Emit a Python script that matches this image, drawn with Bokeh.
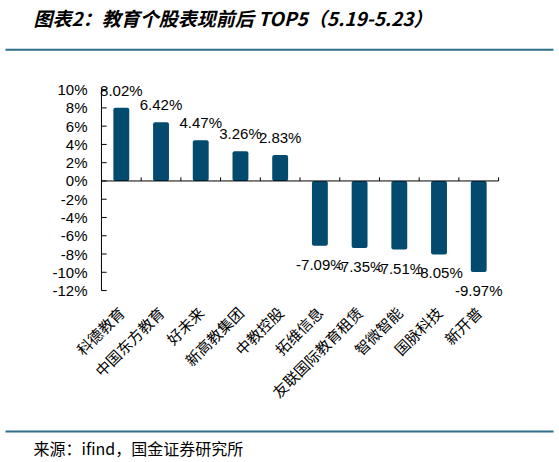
import math

from bokeh.core.properties import value
from bokeh.embed import file_html
from bokeh.layouts import column
from bokeh.models import ColumnDataSource, FixedTicker, PrintfTickFormatter, Range1d
from bokeh.plotting import figure
from bokeh.resources import INLINE

# 教育个股表现前后 TOP5 (5.19-5.23), 涨跌幅 %
names = ["科德教育", "中国东方教育", "好未来", "新高教集团", "中教控股",
         "拓维信息", "友联国际教育租赁", "智微智能", "国脉科技", "新开普"]
changes = [8.02, 6.42, 4.47, 3.26, 2.83, -7.09, -7.35, -7.51, -8.05, -9.97]
y_ticks = list(range(-12, 11, 2))

title_text = "图表2：教育个股表现前后 TOP5（5.19-5.23）"
source_text = "来源：ifind，国金证券研究所"

BAR = "#034a6f"
RULE = "#2f6e8c"
W = 559
CJK = "Noto Sans CJK SC"
NUM = "Liberation Sans"


def blank(h):
    f = figure(width=W, height=h, x_range=Range1d(0, W), y_range=Range1d(0, h),
               x_axis_type=None, y_axis_type=None, toolbar_location=None,
               output_backend="svg", min_border=0)
    f.outline_line_color = None
    f.grid.visible = False
    f.frame_align = False
    return f


# header: title + rule
head = blank(52)
head.text(x=[33], y=[35], text=[title_text], text_font=value(CJK),
          text_font_size="19px", text_font_style="bold italic",
          text_baseline="middle", text_color="black")
head.line(x=[5, 553], y=[2.7, 2.7], line_color=RULE, line_width=2)

# main chart: category i sits at i + 0.5
n = len(names)
centers = [i + 0.5 for i in range(n)]
src = ColumnDataSource(data=dict(x=centers, changes=changes))
pos = ColumnDataSource(data=dict(x=[c for c, v in zip(centers, changes) if v >= 0],
                                 changes=[v for v in changes if v >= 0],
                                 labels=["%.2f%%" % v for v in changes if v >= 0]))
neg = ColumnDataSource(data=dict(x=[c for c, v in zip(centers, changes) if v < 0],
                                 changes=[v for v in changes if v < 0],
                                 labels=["%.2f%%" % v for v in changes if v < 0]))

p = figure(width=W, height=372, x_range=Range1d(-0.15, n + 0.3),
           y_range=Range1d(-13.2, 11.0), toolbar_location=None, output_backend="svg",
           min_border_left=95, min_border_right=49, min_border_top=28, min_border_bottom=123)
p.outline_line_color = None
p.grid.visible = False
p.frame_align = False

p.vbar(x="x", top="changes", width=0.4, source=src, fill_color=BAR,
       line_color=None, border_radius=2)

# value axis line at x=0 with inward ticks
p.segment(x0=[0], x1=[0], y0=[y_ticks[0]], y1=[y_ticks[-1]], line_color="black", line_width=1)
p.segment(x0=[0] * len(y_ticks), x1=[0.13] * len(y_ticks), y0=y_ticks, y1=y_ticks,
          line_color="black", line_width=1)

# zero line with small ticks between categories
p.segment(x0=[0], x1=[n], y0=[0], y1=[0], line_color="black", line_width=1)
bounds = [i + 1 for i in range(n)]
p.segment(x0=bounds, x1=bounds, y0=[0] * n, y1=[0.4] * n, line_color="black", line_width=1)

p.text(x="x", y="changes", text="labels", source=pos, text_align="center",
       text_baseline="bottom", y_offset=-9, text_font=value(NUM),
       text_font_size="15px", text_color="black")
p.text(x="x", y="changes", text="labels", source=neg, text_align="center",
       text_baseline="top", y_offset=10, text_font=value(NUM),
       text_font_size="15px", text_color="black")

p.yaxis.ticker = FixedTicker(ticks=y_ticks)
p.yaxis.formatter = PrintfTickFormatter(format="%d%%")
p.yaxis.major_tick_in = 0
p.yaxis.major_tick_out = 0
p.yaxis.major_tick_line_color = None
p.yaxis.minor_tick_line_color = None
p.yaxis.axis_line_color = None
p.yaxis.major_label_standoff = 8
p.yaxis.major_label_text_font = NUM
p.yaxis.major_label_text_font_size = "15px"
p.yaxis.major_label_text_color = "black"

p.xaxis.ticker = FixedTicker(ticks=centers)
p.xaxis.major_label_overrides = {c: name for c, name in zip(centers, names)}
p.xaxis.axis_line_color = None
p.xaxis.major_tick_line_color = None
p.xaxis.minor_tick_line_color = None
p.xaxis.major_label_orientation = math.pi / 4
p.xaxis.major_label_standoff = 2
p.xaxis.major_label_text_font = CJK
p.xaxis.major_label_text_font_size = "15px"
p.xaxis.major_label_text_color = "black"

# footer: rule + source
foot = blank(38)
foot.line(x=[5, 553], y=[31, 31], line_color=RULE, line_width=2)
foot.text(x=[33], y=[15], text=[source_text], text_font=value(CJK),
          text_font_size="16px", text_baseline="middle", text_color="black")

layout = column(head, p, foot, spacing=0)
open("out.html", "w").write(file_html(layout, INLINE))
